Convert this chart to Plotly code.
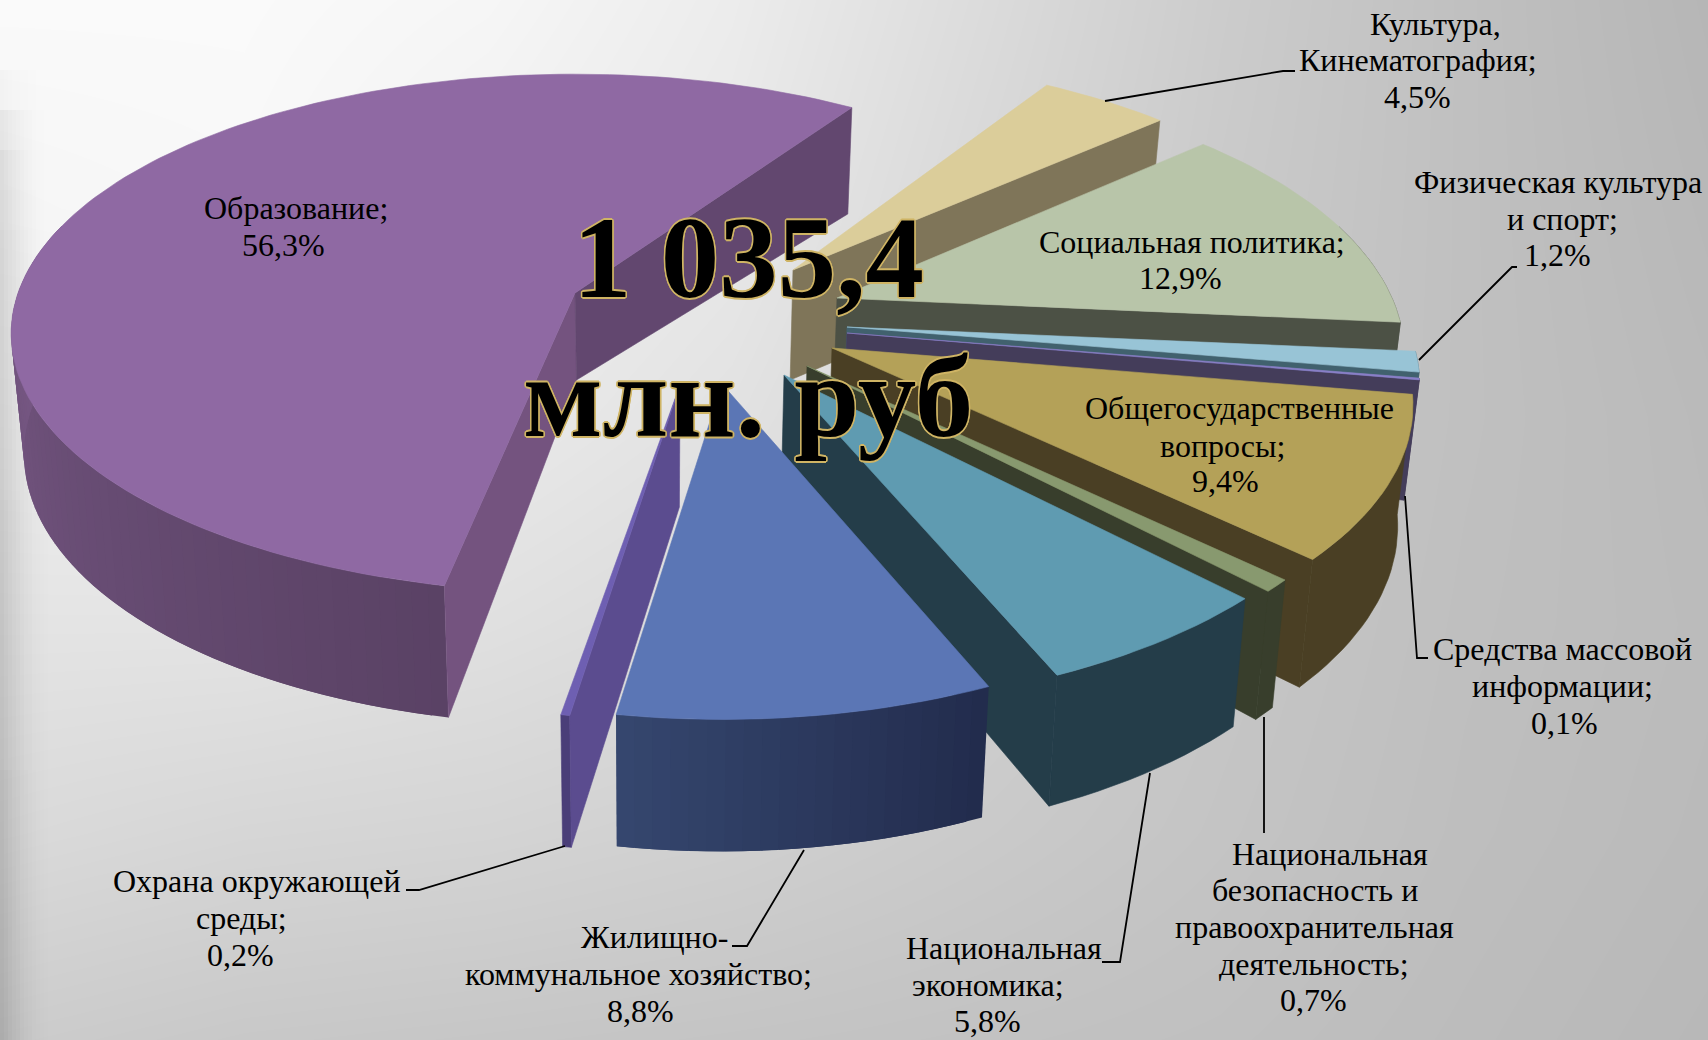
import math
import plotly.graph_objects as go

# ---------- data ----------
categories = ["Культура, Кинематография", "Социальная политика", "Физическая культура и спорт",
              "Средства массовой информации", "Общегосударственные вопросы",
              "Национальная безопасность и правоохранительная деятельность",
              "Национальная экономика", "Жилищно-коммунальное хозяйство",
              "Охрана окружающей среды", "Образование"]
shares = [4.5, 12.9, 1.2, 0.1, 9.4, 0.7, 5.8, 8.8, 0.2, 56.3]

# ---------- style of each slice ----------
top_colors = ["#DBCD9A", "#B8C5A9", "#98C4D6", "#8A80C8", "#B4A158", "#88996F", "#5F9BB1", "#5B76B5", "#6E5FB2", "#8F69A3"]
cut_start = ["#7F7559", "#4C5145", "#41616E", "#443D5A", "#4A3F24", "#383E2C", "#243D49", "#243D49", "#5B4C8F", "#74537F"]
cut_end = ["#7F7559", "#4C5145", "#41616E", "#443D5A", "#4A3F24", "#383E2C", "#243D49", "#243D49", "#5B4C8F", "#62476F"]
rim_from = ["#7F7559", "#4C5145", "#41616E", "#443D5A", "#4A3F24", "#383E2C", "#243D49", "#222C4D", "#4A3E78", "#5A4265"]
rim_to = ["#7F7559", "#4C5145", "#41616E", "#443D5A", "#4A3F24", "#383E2C", "#243D49", "#35466E", "#4A3E78", "#7A5A87"]

# explosion + perspective of each slice on the page
apex_x = [793, 837, 847, 847, 832, 807, 784, 722, 680, 575]
apex_y = [270, 298, 327, 333, 348, 366, 375, 384, 385, 293]
apex_depth = [110, 105, 100, 100, 110, 110, 115, 120, 122, 87]
rad_x = [556, 555, 560, 560, 568, 565, 565, 552, 575, 557]
rad_y = [258, 265, 265, 265, 262, 265, 263, 265, 265, 253]
persp = [0.21, 0.21, 0.21, 0.21, 0.21, 0.21, 0.21, 0.21, 0.21, 0.156]
turn = [1.7, 1.7, 1.7, 1.7, 1.7, 1.7, 1.7, 1.7, 1.7, -0.3]
START_ANGLE = 55.8
VANISH_X = 650
SHRINK = 0.98

# background grays, 8 columns x 6 rows
bg_gray = [
    [250, 250, 246, 236, 220, 204, 192, 182],
    [246, 248, 240, 232, 216, 202, 192, 184],
    [238, 240, 234, 226, 212, 200, 192, 186],
    [228, 228, 224, 218, 208, 198, 191, 187],
    [218, 214, 212, 208, 202, 196, 190, 186],
    [204, 200, 198, 196, 194, 192, 188, 184],
]
# soft dark band down the left edge (opacity by column and row)
band_x = [0, 12, 24, 36, 48]
band_col = [0.14, 0.085, 0.04, 0.012, 0.0]
band_y = [70, 110, 150, 190, 230, 500, 770, 1040]
band_row = [0.0, 0.35, 0.75, 0.85, 0.9, 1.0, 1.1, 1.25]

# one row per printed line: text, centre x, centre y
label_lines = ["Образование;", "56,3%",
               "Культура,", "Кинематография;", "4,5%",
               "Социальная политика;", "12,9%",
               "Физическая культура", "и спорт;", "1,2%",
               "Общегосударственные", "вопросы;", "9,4%",
               "Средства массовой", "информации;", "0,1%",
               "Национальная", "безопасность и", "правоохранительная", "деятельность;", "0,7%",
               "Национальная", "экономика;", "5,8%",
               "Жилищно-", "коммунальное хозяйство;", "8,8%",
               "Охрана окружающей", "среды;", "0,2%"]
label_x = [296, 283,
           1435, 1418, 1417,
           1192, 1180,
           1558, 1562, 1557,
           1239, 1222, 1225,
           1562, 1562, 1564,
           1330, 1315, 1314, 1314, 1313,
           1004, 988, 987,
           654, 638, 640,
           257, 241, 240]
label_y = [208, 245,
           24, 60, 97,
           242, 278,
           182, 219, 255,
           408, 446, 481,
           649, 686, 723,
           854, 890, 927, 964, 1000,
           948, 985, 1021,
           937, 974, 1011,
           881, 918, 955]
leaders = [
    [(1105, 101), (1283, 71), (1295, 71)],
    [(1419, 360), (1512, 267), (1517, 267)],
    [(1405, 496), (1417, 658), (1428, 658)],
    [(1264, 717), (1264, 833)],
    [(1150, 773), (1120, 962), (1102, 962)],
    [(804, 850), (747, 946), (732, 946)],
    [(565, 846), (419, 890), (406, 890)],
]
TITLE_1 = "1 035,4"
TITLE_2 = "млн. руб"


# ---------- helpers ----------
def rim_point(i, deg):
    t = math.radians(deg)
    s, c = math.sin(t), math.cos(t)
    w = 1 + persp[i] * s
    return apex_x[i] + rad_x[i] * c / w, apex_y[i] - rad_y[i] * s / w


def rim_depth(deg):
    return 118 - 14 * math.sin(math.radians(deg))


def drop(x, y, depth):
    return VANISH_X + (x - VANISH_X) * SHRINK, y + depth


def mix(c1, c2, f):
    a = [int(c1[k:k + 2], 16) for k in (1, 3, 5)]
    b = [int(c2[k:k + 2], 16) for k in (1, 3, 5)]
    return "rgb(%d,%d,%d)" % tuple(round(p + (q - p) * f) for p, q in zip(a, b))


def poly(pts, color, width=0.6):
    xs = [p[0] for p in pts] + [pts[0][0]]
    ys = [p[1] for p in pts] + [pts[0][1]]
    line = dict(color=color, width=width) if width else dict(width=0)
    return go.Scatter(x=xs, y=ys, mode="lines", fill="toself", fillcolor=color,
                      line=line, hoverinfo="skip", showlegend=False)


def cross(o, p, q):
    return (p[0] - o[0]) * (q[1] - o[1]) - (p[1] - o[1]) * (q[0] - o[0])


# ---------- figure ----------
fig = go.Figure()
fig.add_trace(go.Heatmap(
    z=bg_gray, x=[i * 1708 / 7 for i in range(8)], y=[j * 1040 / 5 for j in range(6)],
    zmin=0, zmax=255, colorscale=[[0, "#000000"], [1, "#ffffff"]], showscale=False,
    zsmooth="best", hoverinfo="skip"))

# left band as thin see-through columns, fading in from the top
for c in range(len(band_x) - 1):
    for r in range(len(band_y) - 1):
        for s in range(3):
            x0 = band_x[c] + (band_x[c + 1] - band_x[c]) * s / 3
            x1 = band_x[c] + (band_x[c + 1] - band_x[c]) * (s + 1) / 3
            a = (band_col[c] + (band_col[c + 1] - band_col[c]) * (s + 0.5) / 3) * (band_row[r] + band_row[r + 1]) / 2
            fig.add_trace(poly([(x0, band_y[r]), (x1, band_y[r]), (x1, band_y[r + 1]), (x0, band_y[r + 1])],
                               "rgba(0,0,0,%.4f)" % a, width=0))

# clockwise angles of every slice, worked out from the shares
edges = []
ang = START_ANGLE
for i, v in enumerate(shares):
    edges.append((ang + turn[i], ang - v * 3.6 + turn[i]))
    ang -= v * 3.6

draw_order = [0, 1, 2, 3, 4, 5, 6, 8, 9, 7]
for i in draw_order:
    a0, a1 = edges[i]
    apex = (apex_x[i], apex_y[i])
    apex_b = drop(apex[0], apex[1], apex_depth[i])
    n = max(2, int(abs(a1 - a0) / 1.5))
    angs = [a0 + (a1 - a0) * k / n for k in range(n + 1)]
    arc = [rim_point(i, a) for a in angs]
    arc_b = [drop(p[0], p[1], rim_depth(a)) for p, a in zip(arc, angs)]
    mid = arc[n // 2]

    # outer wall: one shape when flat, overlapping strips when it shades along its length
    keep = [k for k in range(n + 1) if math.sin(math.radians(angs[k])) <= 0.3]
    if len(keep) > 1:
        if rim_from[i] == rim_to[i]:
            fig.add_trace(poly([arc[k] for k in keep] + [arc_b[k] for k in reversed(keep)], rim_from[i]))
        else:
            for pos in range(len(keep) - 1):
                k = keep[pos]
                k2 = keep[min(pos + 2, len(keep) - 1)]
                seg = [j for j in keep if k <= j <= k2]
                f = pos / max(1, len(keep) - 2)
                fig.add_trace(poly([arc[j] for j in seg] + [arc_b[j] for j in reversed(seg)],
                                   mix(rim_from[i], rim_to[i], f), width=0))

    # the two cut faces, only where they turn towards the viewer
    for p, pb, col in ((arc[0], arc_b[0], cut_start[i]), (arc[-1], arc_b[-1], cut_end[i])):
        if cross(apex, p, apex_b) * cross(apex, p, mid) < 0:
            fig.add_trace(poly([apex, p, pb, apex_b], col))

    # top face
    fig.add_trace(poly([apex] + arc, top_colors[i]))

for pts in leaders:
    fig.add_trace(go.Scatter(x=[p[0] for p in pts], y=[p[1] for p in pts], mode="lines",
                             line=dict(color="#000000", width=1.8), hoverinfo="skip", showlegend=False))

for text, x, y in zip(label_lines, label_x, label_y):
    fig.add_annotation(x=x, y=y, text=text, showarrow=False, xanchor="center", yanchor="middle",
                       align="center", font=dict(family="Liberation Serif", size=32, color="#000000"))

outline = ", ".join("%gpx %gpx 0 #CFB464" % (dx, dy) for dx, dy in
                    [(-1.6, 0), (1.6, 0), (0, -1.6), (0, 1.6), (-1.2, -1.2), (1.2, -1.2), (-1.2, 1.2), (1.2, 1.2)])
for text, y, size in ((TITLE_1, 257, 117), (TITLE_2, 396, 117)):
    fig.add_annotation(x=748, y=y, text=text, showarrow=False, xanchor="center", yanchor="middle",
                       font=dict(family="Liberation Serif", size=size, color="#000000", weight="bold", shadow=outline))

fig.update_layout(
    width=1708, height=1040, margin=dict(l=0, r=0, t=0, b=0), autosize=False,
    showlegend=False, paper_bgcolor="#e0e0e0", plot_bgcolor="#e0e0e0",
    xaxis=dict(range=[0, 1708], visible=False, fixedrange=True),
    yaxis=dict(range=[1040, 0], visible=False, fixedrange=True),
)
fig.write_html("out.html", config={"displayModeBar": False},
               post_script="document.body.style.margin='0';document.body.style.overflow='hidden';")
